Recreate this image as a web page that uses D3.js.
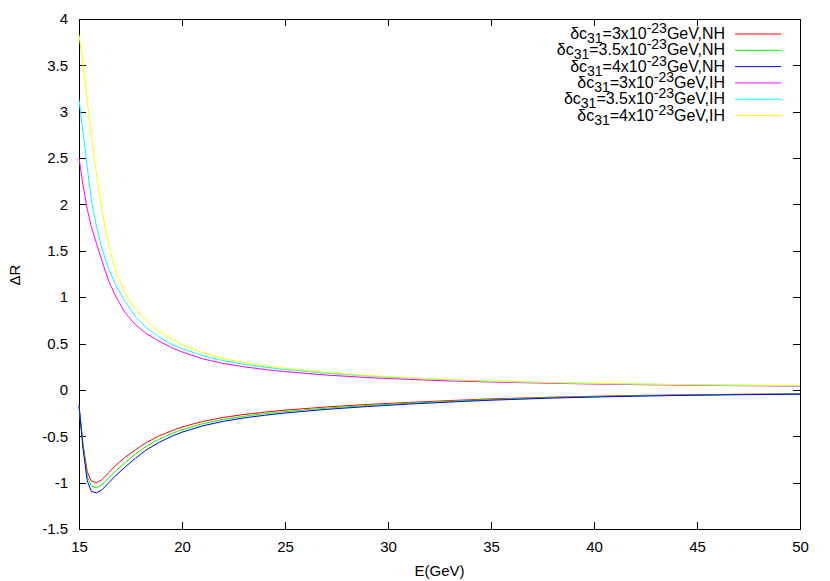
<!DOCTYPE html>
<html>
<head>
<meta charset="utf-8">
<script src="https://cdn.jsdelivr.net/npm/d3@7"></script>
<style>
  body { margin: 0; background: #fff; }
  svg { font-family: "Liberation Sans", Arial, sans-serif; }
  .frame { fill: none; stroke: #000; stroke-width: 1; shape-rendering: crispEdges; }
  .tick line { stroke: #000; shape-rendering: crispEdges; }
  .tick text { font-size: 15px; fill: #000; }
</style>
</head>
<body>
<svg id="chart" width="830" height="581"></svg>
<script>
// energies (GeV) where the curves were read
var energy = [15, 15.2, 15.4, 15.6, 15.85, 16.1, 16.45, 16.8, 17.25, 17.75, 18.25, 18.85, 19.5, 20,
  21, 22, 23, 24, 25, 27, 29, 31, 33, 35, 38, 41, 44, 47, 50];

var nh3 = [-0.17, -0.6, -0.88, -0.985, -1.0, -0.97, -0.89, -0.81, -0.725, -0.645, -0.57, -0.5, -0.44, -0.4,
  -0.34, -0.297, -0.265, -0.24, -0.218, -0.184, -0.157, -0.135, -0.115, -0.097, -0.078, -0.064, -0.054, -0.047, -0.042];
var nh35 = [-0.17, -0.62, -0.93, -1.04, -1.055, -1.025, -0.945, -0.87, -0.78, -0.69, -0.61, -0.535, -0.47, -0.428,
  -0.364, -0.318, -0.284, -0.257, -0.234, -0.197, -0.168, -0.144, -0.123, -0.104, -0.083, -0.068, -0.057, -0.05, -0.044];
var nh4 = [-0.17, -0.64, -0.98, -1.095, -1.11, -1.08, -1.0, -0.92, -0.83, -0.735, -0.65, -0.57, -0.5, -0.456,
  -0.388, -0.339, -0.302, -0.274, -0.249, -0.21, -0.179, -0.153, -0.131, -0.111, -0.088, -0.072, -0.06, -0.052, -0.046];
var ih3 = [2.5, 2.2, 1.95, 1.76, 1.58, 1.4, 1.17, 1.0, 0.83, 0.7, 0.61, 0.53, 0.455, 0.41,
  0.335, 0.285, 0.25, 0.22, 0.197, 0.16, 0.133, 0.113, 0.097, 0.085, 0.071, 0.06, 0.052, 0.046, 0.041];
var ih35 = [3.13, 2.77, 2.4, 2.05, 1.76, 1.53, 1.3, 1.12, 0.95, 0.785, 0.675, 0.575, 0.49, 0.445,
  0.37, 0.315, 0.276, 0.245, 0.22, 0.18, 0.15, 0.127, 0.108, 0.093, 0.077, 0.066, 0.057, 0.05, 0.044];
var ih4 = [3.83, 3.5, 3.12, 2.73, 2.32, 1.95, 1.55, 1.26, 1.04, 0.87, 0.75, 0.64, 0.55, 0.49,
  0.4, 0.34, 0.295, 0.26, 0.232, 0.187, 0.155, 0.13, 0.11, 0.095, 0.079, 0.067, 0.058, 0.051, 0.046];

var coeffs = ["3", "3.5", "4", "3", "3.5", "4"];
var hierarchy = ["NH", "NH", "NH", "IH", "IH", "IH"];
var colors = ["#ff0000", "#00ff00", "#0000ff", "#ff00ff", "#00ffff", "#ffff00"];
var series = [nh3, nh35, nh4, ih3, ih35, ih4];

var xTicks = [15, 20, 25, 30, 35, 40, 45, 50];
var yTicks = [-1.5, -1, -0.5, 0, 0.5, 1, 1.5, 2, 2.5, 3, 3.5, 4];

var svg = d3.select("#chart");
var mLeft = 79, mRight = 800, mTop = 19, mBottom = 529;

var x = d3.scaleLinear().domain([15, 50]).range([mLeft, mRight]);
var y = d3.scaleLinear().domain([-1.5, 4]).range([mBottom, mTop]);

// ticks (mirrored on all four sides, pointing inward)
svg.append("g").attr("transform", "translate(0," + mBottom + ")")
  .call(d3.axisBottom(x).tickValues(xTicks).tickSizeInner(-7).tickSizeOuter(0).tickPadding(12).tickFormat(d3.format("d")))
  .call(function(g) { g.select(".domain").remove(); });
svg.append("g").attr("transform", "translate(0," + mTop + ")")
  .call(d3.axisTop(x).tickValues(xTicks).tickSizeInner(-7).tickSizeOuter(0).tickFormat(""))
  .call(function(g) { g.select(".domain").remove(); });
svg.append("g").attr("transform", "translate(" + mLeft + ",0)")
  .call(d3.axisLeft(y).tickValues(yTicks).tickSizeInner(-7).tickSizeOuter(0).tickPadding(11).tickFormat(function(d) { return String(d); }))
  .call(function(g) { g.select(".domain").remove(); });
svg.append("g").attr("transform", "translate(" + mRight + ",0)")
  .call(d3.axisRight(y).tickValues(yTicks).tickSizeInner(-7).tickSizeOuter(0).tickFormat(""))
  .call(function(g) { g.select(".domain").remove(); });

svg.append("rect").attr("class", "frame")
  .attr("x", mLeft).attr("y", mTop).attr("width", mRight - mLeft).attr("height", mBottom - mTop);

// curves
var line = d3.line()
  .x(function(d, i) { return x(energy[i]); })
  .y(function(d) { return y(d); });

svg.append("g").selectAll("path")
  .data(series)
  .enter().append("path")
  .attr("d", line)
  .attr("fill", "none")
  .attr("stroke", function(d, i) { return colors[i]; })
  .attr("stroke-width", 1);

// legend
var legend = svg.append("g").attr("font-size", 16);
series.forEach(function(s, i) {
  var ly = 34 + i * 16.3;
  var t = legend.append("text")
    .attr("x", 725).attr("y", ly + 5)
    .attr("text-anchor", "end");
  t.append("tspan").text("δc");
  t.append("tspan").attr("dy", 4).attr("font-size", 14).text("31");
  t.append("tspan").attr("dy", -4).text("=" + coeffs[i] + "x10");
  t.append("tspan").attr("dy", -6).attr("font-size", 14).text("-23");
  t.append("tspan").attr("dy", 6).text("GeV," + hierarchy[i]);
  legend.append("line")
    .attr("x1", 735).attr("x2", 781)
    .attr("y1", ly).attr("y2", ly)
    .attr("stroke", colors[i]).attr("stroke-width", 1);
});

// axis titles
svg.append("text")
  .attr("x", (mLeft + mRight) / 2).attr("y", 576)
  .attr("text-anchor", "middle").attr("font-size", 15)
  .text("E(GeV)");
svg.append("text")
  .attr("transform", "translate(20," + 275 + ") rotate(-90)")
  .attr("text-anchor", "middle").attr("font-size", 15)
  .text("ΔR");
</script>
</body>
</html>
